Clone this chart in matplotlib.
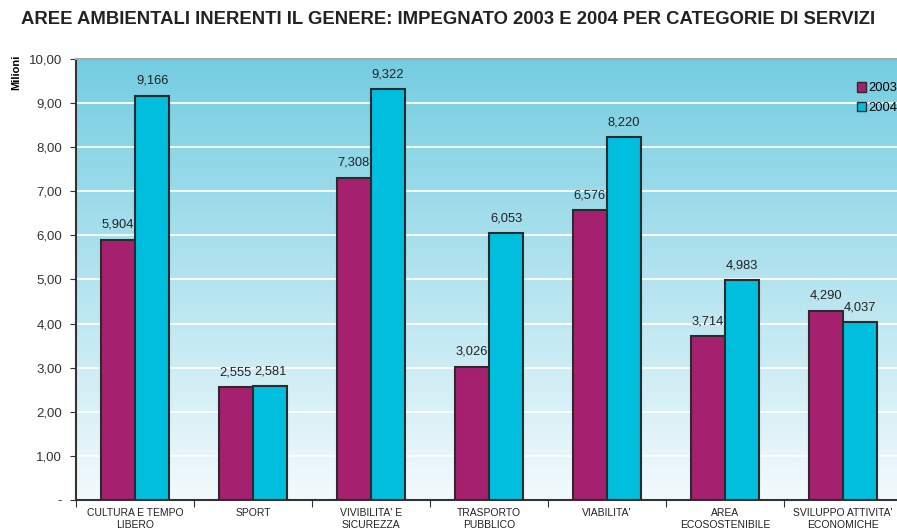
import matplotlib.pyplot as plt
import numpy as np
from matplotlib.colors import LinearSegmentedColormap

# spesa impegnata per categoria di servizio (milioni)
categorie = ["CULTURA E TEMPO\nLIBERO", "SPORT", "VIVIBILITA' E\nSICUREZZA",
             "TRASPORTO\nPUBBLICO", "VIABILITA'", "AREA\nECOSOSTENIBILE",
             "SVILUPPO ATTIVITA'\nECONOMICHE"]
val_2003 = [5.904, 2.555, 7.308, 3.026, 6.576, 3.714, 4.290]
val_2004 = [9.166, 2.581, 9.322, 6.053, 8.220, 4.983, 4.037]
anni = ["2003", "2004"]

col_2003 = "#a5216f"
col_2004 = "#00bedd"

def fmt(v):
    return ("%.3f" % v).replace(".", ",")

fig = plt.figure(figsize=(8.97, 5.32), dpi=100)
ax = fig.add_axes([0.0847, 0.0602, 0.9208, 0.829])

# sfondo sfumato azzurro -> bianco
cmap = LinearSegmentedColormap.from_list("sfondo", ["#f3fafd", "#74cde1"])
grad = np.linspace(0, 1, 256).reshape(-1, 1)
ax.imshow(grad, aspect="auto", cmap=cmap, origin="lower",
          extent=[-0.5, len(categorie) - 0.5, 0, 10], zorder=0)

x = np.arange(len(categorie))
w = 0.29
b1 = ax.bar(x - w / 2, val_2003, w, color=col_2003, edgecolor="#2b2b2b",
            linewidth=1.5, zorder=3, label=anni[0])
b2 = ax.bar(x + w / 2, val_2004, w, color=col_2004, edgecolor="#2b2b2b",
            linewidth=1.5, zorder=3, label=anni[1])

for rect, v in list(zip(b1, val_2003)) + list(zip(b2, val_2004)):
    ax.text(rect.get_x() + rect.get_width() / 2, v + 0.2, fmt(v),
            ha="center", va="bottom", fontsize=9.3, color="#222222",
            family="Liberation Sans")

ax.set_xlim(-0.5, len(categorie) - 0.5)
ax.set_ylim(0, 10)
yt = np.arange(0, 11)
ax.set_yticks(yt)
ax.set_yticklabels(["-"] + [("%.2f" % t).replace(".", ",") for t in yt[1:]],
                   family="Liberation Sans", fontsize=9.5, color="#333333")
ax.yaxis.grid(True, color="white", linewidth=1.3, zorder=1)
ax.set_axisbelow(True)

ax.set_xticks(np.arange(-0.5, len(categorie)), minor=False)
ax.set_xticklabels([])
ax.set_xticks(x, minor=True)
ax.set_xticklabels(categorie, minor=True, family="Liberation Sans",
                   fontsize=7.5, color="#222222")
ax.tick_params(axis="x", which="minor", length=0, pad=6)
ax.tick_params(axis="x", which="major", length=5, color="#333333")
ax.tick_params(axis="y", length=4, color="#333333", pad=6)

for s in ["left", "bottom"]:
    ax.spines[s].set_color("#333333")
    ax.spines[s].set_linewidth(1.5)
ax.spines["top"].set_color("#a9a9a9")
ax.spines["top"].set_linewidth(1.5)
ax.spines["right"].set_visible(False)

ax.set_ylabel("Milioni", family="Liberation Sans", fontsize=8,
              fontweight="bold")
ax.yaxis.set_label_coords(-0.066, 0.97)

leg = ax.legend(loc="upper left", bbox_to_anchor=(0.9375, 0.962), frameon=False,
                handlelength=0.75, handleheight=0.75, handletextpad=0.15,
                labelspacing=0.55, borderpad=0,
                prop={"family": "Liberation Sans", "size": 9.3})
for h in leg.legend_handles:
    h.set_linewidth(1)

fig.text(0.5, 0.963, "AREE AMBIENTALI INERENTI IL GENERE: IMPEGNATO 2003 E 2004 PER CATEGORIE DI SERVIZI",
         ha="center", va="center", family="Liberation Sans", fontsize=13.3,
         fontweight="bold", color="#222222")

fig.savefig("out.png", dpi=100)
